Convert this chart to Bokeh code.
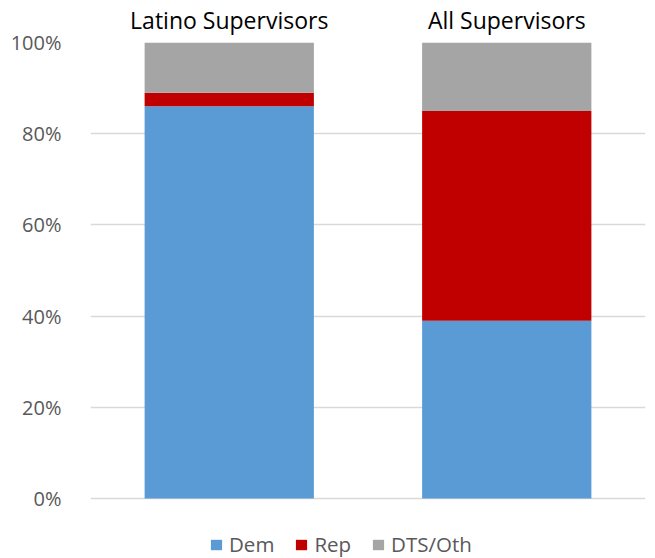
from bokeh.plotting import figure
from bokeh.models import Range1d, FixedTicker, PrintfTickFormatter, Legend, LegendItem, ColumnDataSource
from bokeh.embed import file_html
from bokeh.resources import INLINE

# Party registration share (percent) by supervisor group
groups = ["Latino Supervisors", "All Supervisors"]
dem = [86, 39]
rep = [3, 46]
dts_oth = [11, 15]
parties = ["dem", "rep", "dts_oth"]
party_labels = ["Dem", "Rep", "DTS/Oth"]
colors = ["#5b9bd5", "#c00000", "#a5a5a5"]
y_ticks = [0, 20, 40, 60, 80, 100]

source = ColumnDataSource(dict(groups=groups, dem=dem, rep=rep, dts_oth=dts_oth))

FONT = "Open Sans"

# The plot area runs to the bottom edge so the legend can sit beneath the
# 0% line; the extra room below zero holds the legend strip.
p = figure(
    x_range=groups,
    y_range=Range1d(-13.16, 100),
    width=655,
    height=558,
    output_backend="svg",
    toolbar_location=None,
    x_axis_location="above",
    min_border_left=90,
    min_border_right=10,
    min_border_top=42,
    min_border_bottom=0,
)

renderers = p.vbar_stack(parties, x="groups", width=0.61, color=colors, line_color=None, source=source)

# category labels across the top
p.xaxis.axis_line_color = None
p.xaxis.major_tick_line_color = None
p.xaxis.minor_tick_line_color = None
p.xaxis.major_label_text_font = FONT
p.xaxis.major_label_text_font_size = "23px"
p.xaxis.major_label_text_color = "#000000"
p.xaxis.major_label_standoff = 1

# percentage axis
p.yaxis.ticker = FixedTicker(ticks=y_ticks)
p.yaxis.formatter = PrintfTickFormatter(format="%d%%")
p.yaxis.axis_line_color = None
p.yaxis.major_tick_line_color = None
p.yaxis.minor_tick_line_color = None
p.yaxis.major_label_text_font = FONT
p.yaxis.major_label_text_font_size = "20px"
p.yaxis.major_label_text_color = "#595959"
p.yaxis.major_label_standoff = 23

p.xgrid.grid_line_color = None
p.ygrid.ticker = FixedTicker(ticks=y_ticks)
p.ygrid.grid_line_color = "#d9d9d9"
p.ygrid.grid_line_width = 1.5
p.outline_line_color = None

legend = Legend(
    items=[LegendItem(label=lbl, renderers=[r]) for lbl, r in zip(party_labels, renderers)],
    orientation="horizontal",
    location=(119, 0),
    label_text_font=FONT,
    label_text_font_size="20.5px",
    label_text_color="#595959",
    glyph_width=14,
    glyph_height=13,
    spacing=20,
    label_standoff=6,
    border_line_color=None,
    background_fill_alpha=0,
    padding=0,
    margin=0,
)
p.add_layout(legend, "center")

open("out.html", "w").write(file_html(p, INLINE))
